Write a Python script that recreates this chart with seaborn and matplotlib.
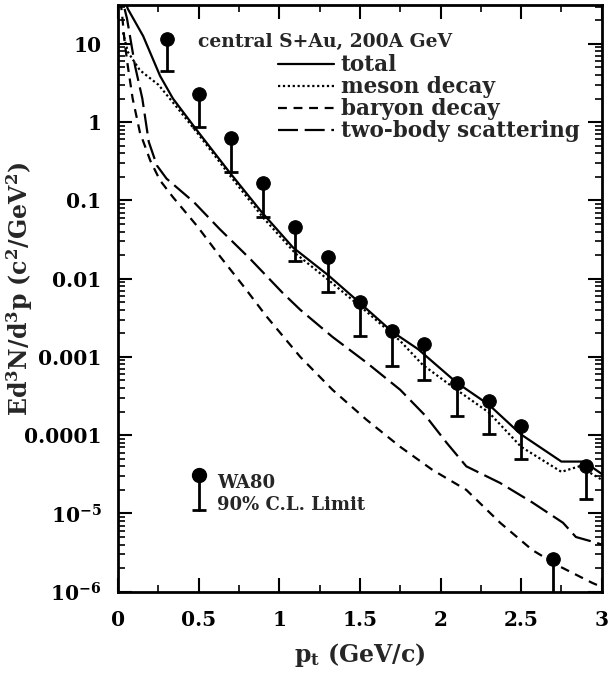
import numpy as np
import pandas as pd
import matplotlib
matplotlib.use("Agg")
import matplotlib.pyplot as plt
import seaborn as sns
from matplotlib.ticker import LogLocator, NullFormatter, MultipleLocator
from matplotlib.lines import Line2D

# WA80 data points and 90% C.L. limits
pt_wa80 = [0.3, 0.5, 0.7, 0.9, 1.1, 1.3, 1.5, 1.7, 1.9, 2.1, 2.3, 2.5, 2.7, 2.9]
wa80 = [11.6, 2.3, 0.63, 0.166, 0.046, 0.0187, 0.0051, 0.00213, 0.00145,
        0.00047, 0.00027, 0.000132, 2.6e-6, 4.0e-5]
wa80_limit = [4.5, 0.87, 0.23, 0.061, 0.0166, 0.0067, 0.00186, 0.00076, 0.00051,
              0.000174, 0.000105, 5.0e-5, 5.0e-7, 1.55e-5]

# model curves
pt_total = [0.035, 0.06, 0.155, 0.26, 0.34, 0.49, 0.69, 0.89, 1.085, 1.3,
            1.49, 1.70, 1.86, 2.10, 2.30, 2.50, 2.75, 2.89, 3.0]
total = [40, 28, 12.6, 3.9, 2.0, 0.78, 0.23, 0.071, 0.025, 0.0112,
         0.0051, 0.0021, 0.00126, 0.00047, 0.000245, 0.000102, 4.6e-5, 4.6e-5, 3.2e-5]

pt_meson = [0.03, 0.06, 0.135, 0.25, 0.37, 0.5, 0.7, 0.9, 1.1, 1.3, 1.54,
            1.75, 1.89, 2.10, 2.30, 2.50, 2.75, 2.86, 3.0]
meson = [14, 7.9, 4.6, 3.0, 1.5, 0.69, 0.2, 0.06, 0.021, 0.0098, 0.0038,
         0.0016, 0.00079, 0.00038, 0.000195, 7.1e-5, 3.4e-5, 4.0e-5, 2.7e-5]

pt_baryon = [0.015, 0.025, 0.04, 0.06, 0.09, 0.135, 0.2, 0.26, 0.34, 0.49, 0.63,
             0.78, 0.92, 1.13, 1.33, 1.54, 1.75, 1.95, 2.16, 2.37, 2.57, 2.74, 2.94, 3.0]
baryon = [35, 23, 10.7, 5.2, 2.0, 0.74, 0.32, 0.18, 0.11, 0.047, 0.0195,
          0.0079, 0.0033, 0.001, 0.00038, 0.000158, 7.1e-5, 3.6e-5, 2.0e-5,
          7.6e-6, 3.4e-6, 2.1e-6, 1.3e-6, 1.15e-6]

pt_twobody = [0.04, 0.055, 0.105, 0.15, 0.19, 0.24, 0.30, 0.47, 0.63, 0.82, 1.02,
              1.13, 1.33, 1.54, 1.75, 1.91, 2.04, 2.16, 2.37, 2.57, 2.76, 2.84, 2.97, 3.0]
twobody = [28, 21, 5.2, 2.0, 0.56, 0.28, 0.19, 0.095, 0.043, 0.0178, 0.0066,
           0.004, 0.0018, 0.00085, 0.00038, 0.000174, 7.9e-5, 4.0e-5, 2.45e-5,
           1.38e-5, 7.6e-6, 5.0e-6, 4.2e-6, 4.0e-6]

labels = ["total", "meson decay", "baryon decay", "two-body scattering"]
ytick_vals = [10, 1, 0.1, 0.01, 0.001, 0.0001, 1e-5, 1e-6]
ytick_labels = ["10", "1", "0.1", "0.01", "0.001", "0.0001", "10$^{-5}$", "10$^{-6}$"]
xtick_vals = [0, 0.5, 1, 1.5, 2, 2.5, 3]
xtick_labels = ["0", "0.5", "1", "1.5", "2", "2.5", "3"]

df = pd.concat([
    pd.DataFrame({"pt": pt_total, "val": total, "component": labels[0]}),
    pd.DataFrame({"pt": pt_meson, "val": meson, "component": labels[1]}),
    pd.DataFrame({"pt": pt_baryon, "val": baryon, "component": labels[2]}),
    pd.DataFrame({"pt": pt_twobody, "val": twobody, "component": labels[3]}),
])

sns.set_theme(style="ticks")
plt.rcParams.update({
    "font.family": ["DejaVu Serif"], "font.weight": "bold",
    "axes.labelweight": "bold",
    "mathtext.fontset": "dejavuserif", "mathtext.default": "bf",
    "axes.linewidth": 2.0, "font.size": 14,
})

DASHES = {labels[0]: "", labels[1]: (1, 1.2), labels[2]: (4, 3), labels[3]: (9, 3)}

fig = plt.figure(figsize=(6.09, 6.77), dpi=100)
ax = fig.add_axes([0.194, 0.126, 0.794, 0.867])

sns.lineplot(data=df, x="pt", y="val", style="component", dashes=DASHES,
             color="black", linewidth=1.6, estimator=None, sort=False,
             legend=False, ax=ax)

# WA80 points with 90% CL limit stems
ax.vlines(pt_wa80, wa80_limit, wa80, color="black", lw=2, zorder=4)
sns.scatterplot(x=pt_wa80, y=wa80_limit, marker="_", s=100, linewidth=2,
                color="black", zorder=4, ax=ax)
sns.scatterplot(x=pt_wa80, y=wa80, marker="o", s=95, color="black",
                edgecolor="black", zorder=5, ax=ax)

ax.set_yscale("log")
ax.set_xlim(0, 3)
ax.set_ylim(1e-6, 10 ** 1.5)
ax.set_yticks(ytick_vals, labels=ytick_labels)
ax.yaxis.set_minor_locator(LogLocator(base=10, subs=np.arange(2, 10)))
ax.yaxis.set_minor_formatter(NullFormatter())
ax.set_xticks(xtick_vals, labels=xtick_labels)
ax.xaxis.set_minor_locator(MultipleLocator(0.25))
ax.tick_params(which="both", direction="in", top=True, right=True, colors="black")
ax.tick_params(which="major", length=10, width=1.5, labelsize=14.5)
ax.tick_params(axis="y", which="major", pad=12)
ax.tick_params(axis="x", which="major", pad=13)
ax.tick_params(which="minor", length=5, width=1.2)
for s in ax.spines.values():
    s.set_color("black")

ax.set_xlabel("p$_\\mathbf{t}$ (GeV/c)", fontsize=17, fontweight="bold", labelpad=8)
ax.set_ylabel("Ed$^3$N/d$^3$p (c$^2$/GeV$^2$)", fontsize=17, fontweight="bold")
ax.yaxis.set_label_coords(-0.172, 0.515)

ax.text(0.165, 0.937, "central S+Au, 200A GeV", transform=ax.transAxes,
        fontsize=13.5, va="center", ha="left")

handles = [Line2D([], [], color="black", lw=1.6, linestyle="-")]
for lab in labels[1:]:
    handles.append(Line2D([], [], color="black", lw=1.6, dashes=DASHES[lab]))
ax.legend(handles, labels, loc="upper left", bbox_to_anchor=(0.313, 0.93),
          frameon=False, handlelength=2.6, handletextpad=0.3, labelspacing=0.0,
          borderaxespad=0, prop={"size": 15.5, "weight": "bold"})

# WA80 key
ax.plot([0.167, 0.167], [0.14, 0.199], transform=ax.transAxes, color="black", lw=2)
ax.plot([0.167], [0.14], marker="_", ms=10, mew=2, transform=ax.transAxes, color="black")
ax.plot([0.167], [0.199], marker="o", ms=10, transform=ax.transAxes, color="black")
ax.text(0.205, 0.186, "WA80", transform=ax.transAxes, fontsize=13, va="center")
ax.text(0.205, 0.148, "90% C.L. Limit", transform=ax.transAxes, fontsize=13, va="center")

fig.savefig("out.png", dpi=100)
